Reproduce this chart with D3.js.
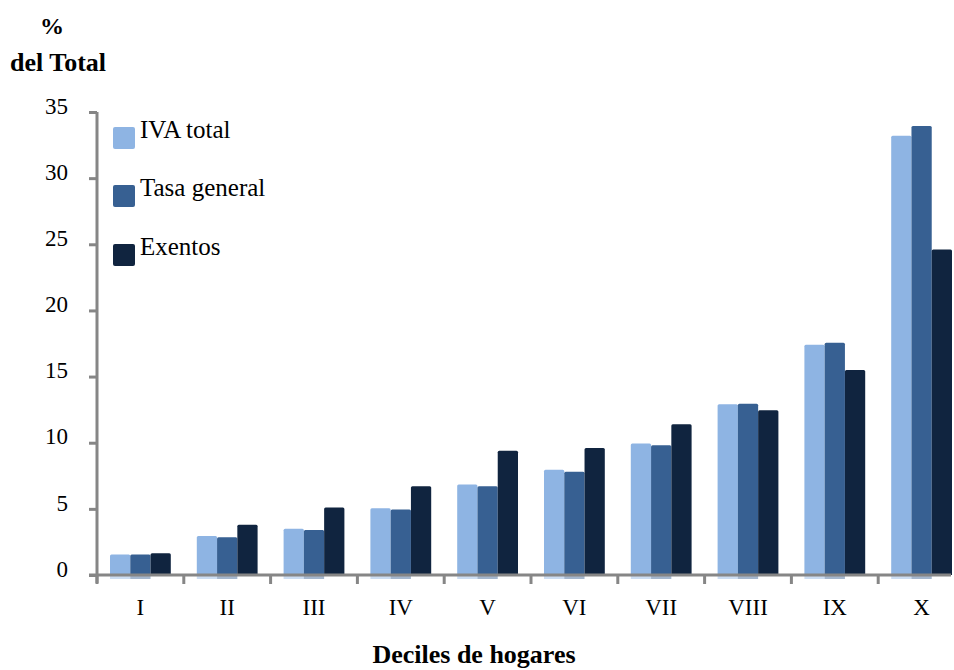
<!DOCTYPE html>
<html><head><meta charset="utf-8">
<script src="https://cdn.jsdelivr.net/npm/d3@7/dist/d3.min.js"></script>
<style>body{margin:0;background:#fff}svg{display:block}
svg text{font-family:"Liberation Serif","Times New Roman","DejaVu Serif",serif;}</style>
</head><body>
<svg id="c" width="954" height="670"></svg>
<script>
const categories = ["I","II","III","IV","V","VI","VII","VIII","IX","X"];
const seriesNames = ["IVA total","Tasa general","Exentos"];
const ivaTotal   = [1.55, 2.95, 3.5, 5.05, 6.85, 7.95, 9.95, 12.9, 17.4, 33.2];
const tasaGeneral= [1.55, 2.85, 3.4, 4.95, 6.7, 7.8, 9.8, 12.95, 17.55, 33.95];
const exentos    = [1.65, 3.8, 5.1, 6.7, 9.4, 9.6, 11.4, 12.45, 15.5, 24.6];
const yTicks = [0,5,10,15,20,25,30,35];
const colors = ["#8EB4E3","#376092","#10243F"];

const series = [ivaTotal, tasaGeneral, exentos];
const svg = d3.select("#c");

const x = d3.scaleBand().domain(categories).range([97, 965]).padding(0);
const xi = d3.scaleBand().domain(d3.range(3)).range([13, x.bandwidth()-13]).padding(0);
const y = d3.scaleLinear().domain([0,35]).range([575,112]);

const g = svg.append("g");
series.forEach((vals, si) => {
  g.selectAll(null).data(vals).enter().append("rect")
    .attr("x", (d,i) => x(categories[i]) + xi(si))
    .attr("y", y(0))
    .attr("width", xi.bandwidth())
    .attr("height", 4)
    .attr("fill", colors[si]).attr("opacity", si===2 ? 0 : 0.45);
});
series.forEach((vals, si) => {
  g.selectAll(null).data(vals).enter().append("path")
    .attr("d", (d,i) => {
      const x0 = x(categories[i]) + xi(si), w = xi.bandwidth();
      const top = y(d), bot = y(0), r = 1.5;
      return `M${x0},${bot}V${top+r}Q${x0},${top} ${x0+r},${top}H${x0+w-r}Q${x0+w},${top} ${x0+w},${top+r}V${bot}Z`;
    })
    .attr("fill", colors[si]);
});

const axisColor = "#868686";
const yAxis = svg.append("g").attr("transform","translate(97,0)")
  .call(d3.axisLeft(y).tickValues(yTicks).tickSize(8).tickFormat(d3.format("d")));
yAxis.attr("font-family", null);
yAxis.select(".domain").attr("d", `M0,${y(35)}V${y(0)+8}`).attr("stroke", axisColor).attr("stroke-width", 3);
yAxis.selectAll(".tick line").attr("stroke", axisColor).attr("stroke-width", 3);
yAxis.selectAll(".tick text").attr("font-size", 23).attr("fill","#000")
  .attr("x", -29).attr("dy", "0.05em");

const xAxis = svg.append("g").attr("transform", `translate(0,${y(0)})`)
  .call(d3.axisBottom(x).tickSize(0).tickFormat(d => d));
xAxis.attr("font-family", null);
xAxis.select(".domain").attr("d", "M89,0H951").attr("stroke", axisColor).attr("stroke-width", 3);
xAxis.selectAll(".tick text").attr("font-size", 23).attr("fill","#000")
  .attr("y", 40).attr("dy", 0);
svg.append("g").selectAll("line").data(categories).enter().append("line")
  .attr("x1", d => x(d)).attr("x2", d => x(d))
  .attr("y1", y(0)).attr("y2", y(0)+9)
  .attr("stroke", axisColor).attr("stroke-width", 3);

const leg = svg.append("g");
const legY = [138, 196, 255];
seriesNames.forEach((n, i) => {
  leg.append("rect").attr("x", 113).attr("y", legY[i]-11).attr("width", 22).attr("height", 22)
    .attr("rx", 2).attr("fill", colors[i]);
  leg.append("text").attr("x", 140).attr("y", legY[i]).attr("font-size", 25).attr("fill", "#000").text(n);
});

svg.append("text").attr("x", 52).attr("y", 34).attr("text-anchor","middle")
  .attr("font-weight","bold").attr("font-size", 24).text("%");
svg.append("text").attr("x", 58).attr("y", 71).attr("text-anchor","middle")
  .attr("font-weight","bold").attr("font-size", 26).text("del Total");
svg.append("text").attr("x", 474).attr("y", 663).attr("text-anchor","middle")
  .attr("font-weight","bold").attr("font-size", 26).text("Deciles de hogares");
</script>
</body></html>
